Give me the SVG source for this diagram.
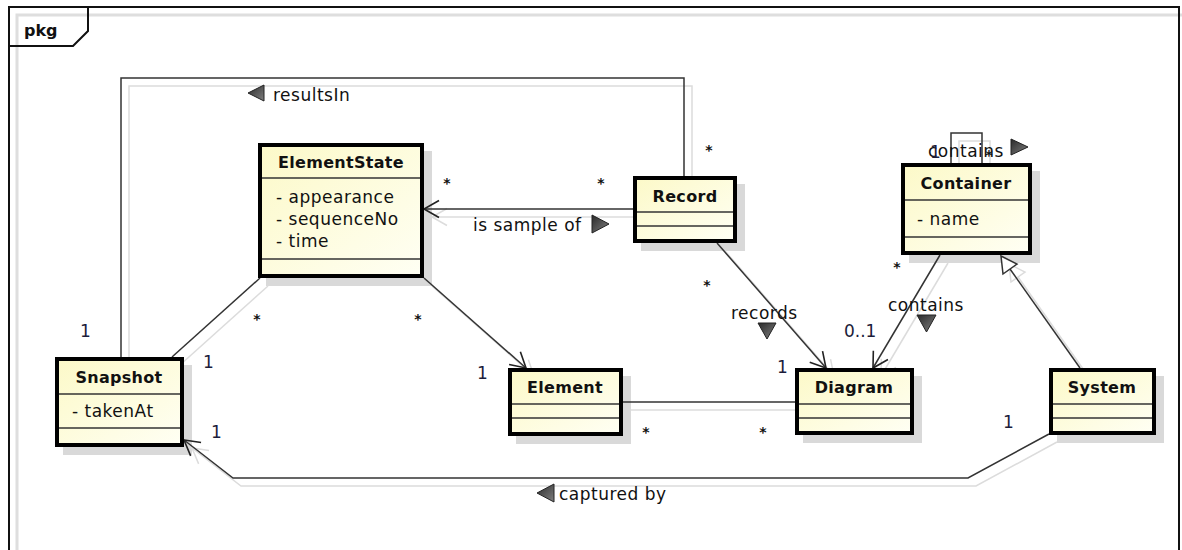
<svg xmlns="http://www.w3.org/2000/svg" width="1182" height="550" viewBox="0 0 1182 550">
  <defs>
    <linearGradient id="classFill" x1="0" y1="0" x2="1" y2="1">
      <stop offset="0" stop-color="#fcf9c8"/>
      <stop offset="1" stop-color="#fffff4"/>
    </linearGradient>
    <linearGradient id="triFill" x1="0" y1="0" x2="1" y2="1">
      <stop offset="0" stop-color="#2a2a2a"/>
      <stop offset="1" stop-color="#808080"/>
    </linearGradient>
    <marker id="open" viewBox="-17 -10 19 20" refX="0" refY="0" markerWidth="19" markerHeight="20" markerUnits="userSpaceOnUse" orient="auto">
      <path d="M-15,-8.5 L0,0 L-15,8.5" fill="none" stroke="#222" stroke-width="1.6"/>
    </marker>
    <marker id="openShadow" viewBox="-17 -10 19 20" refX="0" refY="0" markerWidth="19" markerHeight="20" markerUnits="userSpaceOnUse" orient="auto">
      <path d="M-15,-8.5 L0,0 L-15,8.5" fill="none" stroke="#dcdcdc" stroke-width="1.5"/>
    </marker>
  </defs>
  <style>
    .frame { fill: none; stroke: #111; stroke-width: 2; }
    .frameShadow { fill: none; stroke: #dedede; stroke-width: 3; }
    .shadow { fill: #d9d9d9; }
    .box { fill: url(#classFill); stroke: #000; stroke-width: 4; }
    .sep { stroke: #333; stroke-width: 1.5; }
    .title { font-family: "DejaVu Sans", sans-serif; font-weight: bold; font-size: 16px; fill: #111; text-anchor: middle; letter-spacing: 0.3px; }
    .attr { font-family: "DejaVu Sans", sans-serif; font-size: 17px; fill: #111; letter-spacing: 0.5px; }
    .lbl { font-family: "DejaVu Sans", sans-serif; font-size: 17px; fill: #111; letter-spacing: 0.5px; }
    .mult { font-family: "DejaVu Sans", sans-serif; font-size: 17px; fill: #1c1c3a; }
    .star { font-family: "DejaVu Sans", sans-serif; font-weight: bold; font-size: 14px; fill: #111; text-anchor: middle; }
    .line { fill: none; stroke: #333; stroke-width: 1.5; }
    .lineShadow { fill: none; stroke: #dcdcdc; stroke-width: 1.5; }
    .dir { fill: url(#triFill); stroke: #222; stroke-width: 1; }
  </style>

  <rect width="1182" height="550" fill="#fff"/>

  <!-- package frame -->
  <g id="frame">
    <path class="frameShadow" d="M17,550 V15 H1182"/>
    <path class="frame" d="M9,550 V7 H1179 V550"/>
    <path class="frame" d="M9,46 H73 L88,31 V7"/>
    <text x="24" y="36" style="font-family:'DejaVu Sans',sans-serif;font-weight:bold;font-size:16px;fill:#111">pkg</text>
  </g>

  <!-- drop shadows of the classes, kept below the connectors -->
  <g id="class-shadows">
    <rect class="shadow" x="266" y="151" width="166" height="135"/>
    <rect class="shadow" x="641" y="184" width="104" height="67"/>
    <rect class="shadow" x="909" y="171" width="131" height="92"/>
    <rect class="shadow" x="63" y="365" width="129" height="90"/>
    <rect class="shadow" x="516" y="376" width="115" height="68"/>
    <rect class="shadow" x="803" y="376" width="119" height="67"/>
    <rect class="shadow" x="1057" y="376" width="107" height="67"/>
  </g>

  <!-- connectors -->
  <g id="connectors">
    <g id="connector-shadows">
      <path class="lineShadow" d="M129,365 V86 H692 V185"/>
      <path class="lineShadow" d="M641,217 H432" marker-end="url(#openShadow)"/>
      <path class="lineShadow" d="M268,286 L180,365"/>
      <path class="lineShadow" d="M432,286 L534,376" marker-end="url(#openShadow)"/>
      <path class="lineShadow" d="M631,410 H803"/>
      <path class="lineShadow" d="M725,251 L834,376" marker-end="url(#openShadow)"/>
      <path class="lineShadow" d="M948,263 L881,376" marker-end="url(#openShadow)"/>
      <path class="lineShadow" d="M1088,376 L1018,277"/>
      <path class="lineShadow" d="M1009,264 L1025,272 L1011,282 Z"/>
      <path class="lineShadow" d="M1057,442 L976,486 H241 L192,448" marker-end="url(#openShadow)"/>
      <path class="lineShadow" d="M959,171 V141 H990 V171"/>
    </g>

    <!-- Snapshot resultsIn Record -->
    <path class="line" d="M121,357 V78 H684 V177"/>
    <!-- Record is sample of ElementState -->
    <path class="line" d="M633,209 H424" marker-end="url(#open)"/>
    <!-- ElementState to Snapshot -->
    <path class="line" d="M260,278 L172,357"/>
    <!-- ElementState to Element -->
    <path class="line" d="M424,278 L526,368" marker-end="url(#open)"/>
    <!-- Element to Diagram -->
    <path class="line" d="M623,402 H795"/>
    <!-- Record records Diagram -->
    <path class="line" d="M717,243 L826,368" marker-end="url(#open)"/>
    <!-- Container contains Diagram -->
    <path class="line" d="M940,255 L873,368" marker-end="url(#open)"/>
    <!-- System generalizes to Container -->
    <path class="line" d="M1080,368 L1010,269"/>
    <path d="M1001,256 L1017,264 L1003,274 Z" fill="#fff" stroke="#333" stroke-width="1.5"/>
    <!-- System captured by Snapshot -->
    <path class="line" d="M1049,434 L968,478 H233 L184,440" marker-end="url(#open)"/>
    <!-- Container self association -->
    <path class="line" d="M951,163 V133 H982 V163"/>

    <!-- association labels -->
    <path class="dir" d="M248,93 L264,85 L264,101 Z"/>
    <text class="lbl" x="273" y="101">resultsIn</text>

    <text class="lbl" x="473" y="231">is sample of</text>
    <path class="dir" d="M609,224 L592,215 L592,233 Z"/>

    <text class="lbl" x="731" y="319">records</text>
    <path class="dir" d="M758,323 L776,323 L767,339 Z"/>

    <text class="lbl" x="888" y="311">contains</text>
    <path class="dir" d="M917,315 L936,315 L926.5,332 Z"/>

    <text class="lbl" x="928" y="157">contains</text>
    <path class="dir" d="M1028,147 L1011,139 L1011,155 Z"/>

    <path class="dir" d="M537,493 L554,484 L554,502 Z"/>
    <text class="lbl" x="559" y="500">captured by</text>

    <!-- multiplicities -->
    <text class="mult" x="80" y="337">1</text>
    <text class="star" x="709" y="155">*</text>
    <text class="star" x="447" y="188">*</text>
    <text class="star" x="601" y="188">*</text>
    <text class="star" x="257" y="324">*</text>
    <text class="mult" x="203" y="368">1</text>
    <text class="star" x="418" y="324">*</text>
    <text class="mult" x="477" y="379">1</text>
    <text class="star" x="646" y="437">*</text>
    <text class="star" x="763" y="437">*</text>
    <text class="star" x="707" y="290">*</text>
    <text class="mult" x="777" y="373">1</text>
    <text class="mult" x="844" y="337">0..1</text>
    <text class="star" x="897" y="272">*</text>
    <text class="mult" x="1003" y="428">1</text>
    <text class="mult" x="211" y="438">1</text>
    <text class="mult" x="930" y="158">1</text>
    <text class="star" x="989" y="160">*</text>
  </g>

  <!-- classes -->
  <g id="ElementState">
    <rect class="box" x="260" y="145" width="162" height="131"/>
    <line class="sep" x1="262" y1="178" x2="420" y2="178"/>
    <line class="sep" x1="262" y1="259" x2="420" y2="259"/>
    <text class="title" x="341" y="168">ElementState</text>
    <text class="attr" x="276" y="203">- appearance</text>
    <text class="attr" x="276" y="225">- sequenceNo</text>
    <text class="attr" x="276" y="247">- time</text>
  </g>

  <g id="Record">
    <rect class="box" x="635" y="178" width="100" height="63"/>
    <line class="sep" x1="637" y1="212" x2="733" y2="212"/>
    <line class="sep" x1="637" y1="226" x2="733" y2="226"/>
    <text class="title" x="685" y="202">Record</text>
  </g>

  <g id="Container">
    <rect class="box" x="903" y="165" width="127" height="88"/>
    <line class="sep" x1="905" y1="200" x2="1028" y2="200"/>
    <line class="sep" x1="905" y1="237" x2="1028" y2="237"/>
    <text class="title" x="966" y="189">Container</text>
    <text class="attr" x="917" y="225">- name</text>
  </g>

  <g id="Snapshot">
    <rect class="box" x="57" y="359" width="125" height="86"/>
    <line class="sep" x1="59" y1="394" x2="180" y2="394"/>
    <line class="sep" x1="59" y1="428" x2="180" y2="428"/>
    <text class="title" x="119" y="383">Snapshot</text>
    <text class="attr" x="72" y="417">- takenAt</text>
  </g>

  <g id="Element">
    <rect class="box" x="510" y="370" width="111" height="64"/>
    <line class="sep" x1="512" y1="404" x2="619" y2="404"/>
    <line class="sep" x1="512" y1="418" x2="619" y2="418"/>
    <text class="title" x="565" y="393">Element</text>
  </g>

  <g id="Diagram">
    <rect class="box" x="797" y="370" width="115" height="63"/>
    <line class="sep" x1="799" y1="404" x2="910" y2="404"/>
    <line class="sep" x1="799" y1="418" x2="910" y2="418"/>
    <text class="title" x="854" y="393">Diagram</text>
  </g>

  <g id="System">
    <rect class="box" x="1051" y="370" width="103" height="63"/>
    <line class="sep" x1="1053" y1="404" x2="1152" y2="404"/>
    <line class="sep" x1="1053" y1="418" x2="1152" y2="418"/>
    <text class="title" x="1102" y="393">System</text>
  </g>
</svg>
